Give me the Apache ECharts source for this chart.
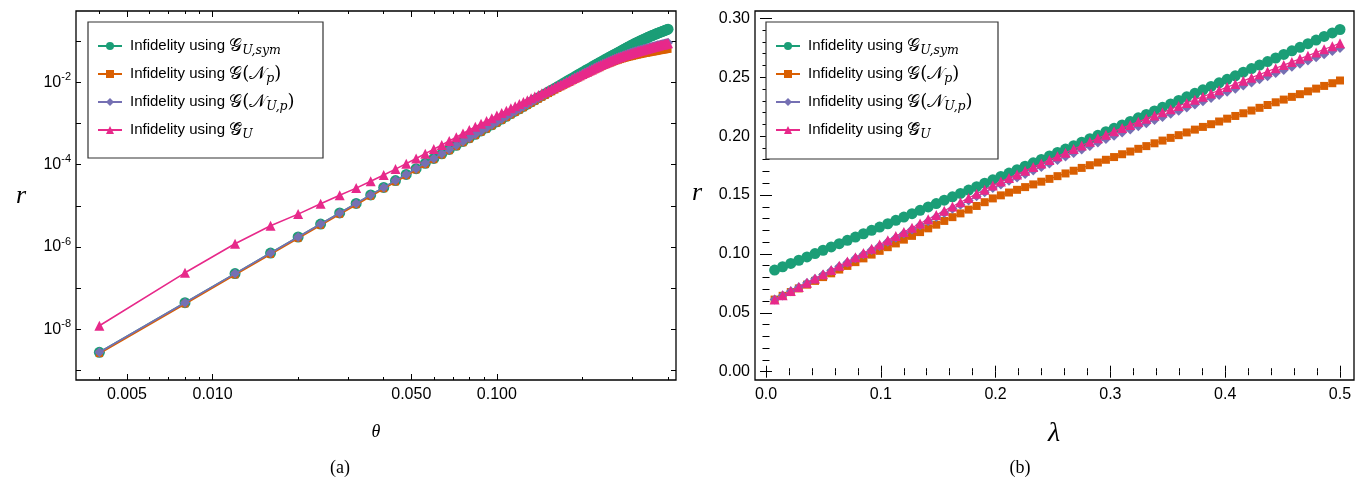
<!DOCTYPE html>
<html><head><meta charset="utf-8">
<script src="https://cdn.jsdelivr.net/npm/echarts@6/dist/echarts.min.js"></script>
<style>html,body{margin:0;padding:0;background:#fff;}#c{width:1364px;height:483px;}</style>
</head><body><div id="c"></div>
<script>
// ---------- data: panel (a) ----------
const theta = [0.004,0.008,0.012,0.016,0.020,0.024,0.028,0.032,0.036,0.040,
0.044,0.048,0.052,0.056,0.060,0.064,0.068,0.072,0.076,0.080,
0.084,0.088,0.092,0.096,0.100,0.104,0.108,0.112,0.116,0.120,
0.124,0.128,0.132,0.136,0.140,0.144,0.148,0.152,0.156,0.160,
0.164,0.168,0.172,0.176,0.180,0.184,0.188,0.192,0.196,0.200,
0.204,0.208,0.212,0.216,0.220,0.224,0.228,0.232,0.236,0.240,
0.244,0.248,0.252,0.256,0.260,0.264,0.268,0.272,0.276,0.280,
0.284,0.288,0.292,0.296,0.300,0.304,0.308,0.312,0.316,0.320,
0.324,0.328,0.332,0.336,0.340,0.344,0.348,0.352,0.356,0.360,
0.364,0.368,0.372,0.376,0.380,0.384,0.388,0.392,0.396,0.400];
const aGsym = [2.80e-9,4.47e-8,2.27e-7,7.16e-7,1.754e-6,3.62e-6,6.72e-6,1.146e-5,1.841e-5,2.80e-5,
4.10e-5,5.80e-5,8.00e-5,1.074e-4,1.416e-4,1.833e-4,2.337e-4,2.936e-4,3.647e-4,4.477e-4,
5.441e-4,6.554e-4,7.830e-4,9.282e-4,1.0929e-3,1.2785e-3,1.4869e-3,1.7198e-3,1.9787e-3,2.2663e-3,
2.5841e-3,2.9335e-3,3.3175e-3,3.7388e-3,4.199e-3,4.6994e-3,5.2429e-3,5.834e-3,6.4724e-3,7.1627e-3,
7.9061e-3,8.7057e-3,9.5656e-3,1.0486e-2,1.1472e-2,1.2526e-2,1.3652e-2,1.4852e-2,1.6129e-2,1.7486e-2,
0.018895,0.020376,0.021944,0.023598,0.025352,0.027164,0.029062,0.031061,0.03316,0.035346,
0.037647,0.040063,0.042579,0.045196,0.047943,0.050747,0.053666,0.056715,0.059864,0.063143,
0.066551,0.070074,0.073726,0.077523,0.081448,0.08513,0.088912,0.092794,0.096763,0.10085,
0.10502,0.10929,0.11366,0.11812,0.12268,0.12703,0.13143,0.13591,0.14044,0.14501,
0.14965,0.15433,0.15906,0.16383,0.16863,0.17347,0.17833,0.18323,0.18812,0.19305];
const aGNp = [2.60e-9,4.16e-8,2.108e-7,6.66e-7,1.626e-6,3.365e-6,6.241e-6,1.0656e-5,1.7083e-5,2.6028e-5,
3.8107e-5,5.3925e-5,7.4345e-5,9.9941e-5,1.3172e-4,1.7055e-4,2.1728e-4,2.7308e-4,3.3908e-4,4.163e-4,
5.0603e-4,6.0957e-4,7.282e-4,8.6323e-4,1.0164e-3,1.1891e-3,1.3828e-3,1.5995e-3,1.8402e-3,2.1077e-3,
2.398e-3,2.7164e-3,3.0654e-3,3.4472e-3,3.863e-3,4.3047e-3,4.7816e-3,5.2973e-3,5.8511e-3,6.4464e-3,
7.0522e-3,7.6957e-3,8.3795e-3,9.1018e-3,9.8663e-3,1.0673e-2,1.1523e-2,1.2416e-2,1.3354e-2,1.4339e-2,
0.015331,0.016364,0.01744,0.018556,0.019714,0.020857,0.022032,0.023238,0.024478,0.025745,
0.026961,0.028195,0.029442,0.030698,0.031962,0.033126,0.034278,0.035414,0.036528,0.037618,
0.038676,0.039699,0.04068,0.041613,0.042491,0.043497,0.044454,0.045359,0.046204,0.046985,
0.047933,0.048826,0.049658,0.050423,0.051115,0.052035,0.052893,0.053692,0.054417,0.055068,
0.056023,0.056922,0.057763,0.05854,0.059248,0.060072,0.06083,0.061522,0.062135,0.062669];
const aGNUp = [2.80e-9,4.47e-8,2.27e-7,7.16e-7,1.754e-6,3.62e-6,6.72e-6,1.146e-5,1.841e-5,2.80e-5,
4.10e-5,5.80e-5,8.00e-5,1.074e-4,1.416e-4,1.833e-4,2.337e-4,2.936e-4,3.647e-4,4.477e-4,
5.441e-4,6.554e-4,7.830e-4,9.282e-4,1.0929e-3,1.2785e-3,1.4869e-3,1.7198e-3,1.9787e-3,2.2663e-3,
2.5789e-3,2.9217e-3,3.2976e-3,3.7089e-3,4.157e-3,4.6383e-3,5.1591e-3,5.7231e-3,6.3301e-3,6.9836e-3,
7.669e-3,8.4009e-3,9.1829e-3,1.0014e-2,1.0899e-2,1.18e-2,1.2751e-2,1.3753e-2,1.4806e-2,1.5913e-2,
0.017035,0.018205,0.019427,0.020697,0.022017,0.023333,0.02469,0.026088,0.027529,0.029007,
0.030524,0.03208,0.033672,0.035299,0.036957,0.038541,0.040142,0.041755,0.043377,0.045007,
0.046639,0.048271,0.049896,0.051512,0.053114,0.054697,0.056256,0.057786,0.059282,0.060737,
0.062265,0.063752,0.065193,0.066582,0.06791,0.069483,0.071004,0.072484,0.0739,0.075261,
0.076819,0.078328,0.07978,0.081169,0.082492,0.084122,0.085698,0.087225,0.088687,0.090088];
const aGtil = [1.234e-8,2.373e-7,1.2007e-6,3.293e-6,6.298e-6,1.1231e-5,1.8133e-5,2.6934e-5,3.9487e-5,5.5967e-5,
7.7839e-5,1.0558e-4,1.4064e-4,1.8485e-4,2.3796e-4,3.0069e-4,3.7618e-4,4.639e-4,5.6887e-4,6.8938e-4,
8.2498e-4,9.7798e-4,1.1494e-3,1.3404e-3,1.5519e-3,1.7848e-3,2.0399e-3,2.3183e-3,2.6197e-3,2.9462e-3,
3.2922e-3,3.6611e-3,4.054e-3,4.4716e-3,4.9128e-3,5.3855e-3,5.8826e-3,6.4057e-3,6.9514e-3,7.5209e-3,
8.1591e-3,8.8276e-3,9.5273e-3,1.0255e-2,1.1013e-2,1.1875e-2,1.2779e-2,1.3723e-2,1.4709e-2,1.5737e-2,
0.016845,0.018001,0.019206,0.02046,0.021761,0.023113,0.024514,0.025962,0.027461,0.029007,
0.030447,0.031915,0.033408,0.034923,0.036458,0.038011,0.039578,0.041157,0.042743,0.044335,
0.045786,0.047218,0.048625,0.050002,0.051344,0.052831,0.054289,0.055715,0.057102,0.058445,
0.059976,0.061476,0.062937,0.064353,0.065719,0.06734,0.06892,0.070471,0.07197,0.073424,
0.075016,0.076563,0.078063,0.07951,0.080898,0.082363,0.083766,0.085109,0.086375,0.08757];

// ---------- data: panel (b) ----------
const lambda = [0.0075,0.0145,0.0216,0.0286,0.0357,0.0427,0.0497,0.0568,0.0638,0.0709,
0.0779,0.0849,0.0920,0.0990,0.1061,0.1131,0.1201,0.1272,0.1342,0.1413,
0.1483,0.1553,0.1624,0.1694,0.1765,0.1835,0.1905,0.1976,0.2046,0.2117,
0.2187,0.2257,0.2328,0.2398,0.2469,0.2539,0.2609,0.2680,0.2750,0.2821,
0.2891,0.2961,0.3032,0.3102,0.3173,0.3243,0.3313,0.3384,0.3454,0.3525,
0.3595,0.3665,0.3736,0.3806,0.3877,0.3947,0.4017,0.4088,0.4158,0.4229,
0.4299,0.4369,0.4440,0.4510,0.4581,0.4651,0.4721,0.4792,0.4862,0.4933,0.5000];
const bGsym = [0.0863,0.0891,0.0919,0.0946,0.0974,0.1003,0.1031,0.1059,0.1087,0.1115,
0.1143,0.1171,0.1200,0.1228,0.1256,0.1285,0.1313,0.1341,0.1370,0.1399,
0.1427,0.1456,0.1485,0.1513,0.1542,0.1571,0.1600,0.1629,0.1657,0.1686,
0.1715,0.1744,0.1773,0.1802,0.1832,0.1861,0.1890,0.1919,0.1948,0.1978,
0.2007,0.2037,0.2066,0.2095,0.2125,0.2155,0.2184,0.2214,0.2244,0.2273,
0.2303,0.2333,0.2363,0.2393,0.2422,0.2452,0.2482,0.2512,0.2543,0.2573,
0.2603,0.2633,0.2663,0.2693,0.2724,0.2754,0.2785,0.2815,0.2846,0.2876,0.2905];
const bGNp = [0.0612,0.0644,0.0676,0.0707,0.0739,0.0771,0.0803,0.0835,0.0867,0.0898,
0.0930,0.0962,0.0994,0.1026,0.1057,0.1089,0.1121,0.1153,0.1185,0.1217,
0.1248,0.1280,0.1312,0.1344,0.1376,0.1407,0.1439,0.1471,0.1497,0.1521,
0.1544,0.1567,0.1590,0.1613,0.1637,0.1660,0.1683,0.1706,0.1730,0.1753,
0.1776,0.1799,0.1822,0.1846,0.1869,0.1892,0.1915,0.1939,0.1962,0.1985,
0.2008,0.2031,0.2055,0.2078,0.2101,0.2124,0.2148,0.2171,0.2194,0.2217,
0.2240,0.2264,0.2287,0.2310,0.2333,0.2356,0.2380,0.2403,0.2426,0.2449,0.2472];
const bGNUp = [0.0612,0.0647,0.0682,0.0717,0.0752,0.0787,0.0822,0.0857,0.0892,0.0928,
0.0963,0.0998,0.1033,0.1068,0.1103,0.1138,0.1173,0.1208,0.1243,0.1278,
0.1313,0.1348,0.1383,0.1418,0.1453,0.1489,0.1524,0.1559,0.1590,0.1620,
0.1649,0.1679,0.1708,0.1738,0.1768,0.1797,0.1827,0.1856,0.1886,0.1915,
0.1945,0.1975,0.2003,0.2030,0.2056,0.2083,0.2110,0.2136,0.2163,0.2189,
0.2216,0.2243,0.2269,0.2296,0.2323,0.2349,0.2376,0.2402,0.2429,0.2456,
0.2482,0.2509,0.2536,0.2562,0.2589,0.2615,0.2642,0.2669,0.2695,0.2722,0.2747];
const bGtil = [0.0612,0.0648,0.0684,0.0720,0.0756,0.0792,0.0827,0.0863,0.0899,0.0935,
0.0971,0.1007,0.1043,0.1079,0.1115,0.1151,0.1186,0.1222,0.1258,0.1294,
0.1330,0.1366,0.1402,0.1438,0.1474,0.1510,0.1545,0.1581,0.1614,0.1645,
0.1675,0.1706,0.1737,0.1767,0.1798,0.1828,0.1859,0.1890,0.1920,0.1951,
0.1982,0.2012,0.2041,0.2068,0.2095,0.2121,0.2148,0.2175,0.2202,0.2228,
0.2255,0.2282,0.2309,0.2335,0.2362,0.2389,0.2416,0.2442,0.2469,0.2496,
0.2523,0.2549,0.2576,0.2603,0.2630,0.2656,0.2683,0.2710,0.2737,0.2763,0.2789];

// ---------- ticks ----------
const aXLabels = [0.005, 0.01, 0.05, 0.1];
const aXMinor = [0.004,0.006,0.007,0.008,0.009,0.02,0.03,0.04,0.06,0.07,0.08,0.09,0.2,0.3,0.4];
const aYTicks = [1e-9,1e-8,1e-7,1e-6,1e-5,1e-4,1e-3,1e-2,1e-1];
const aYLabels = [1e-8,1e-6,1e-4,1e-2];
const bXLabels = [0,0.1,0.2,0.3,0.4,0.5];
const bXMinor = [0.02,0.04,0.06,0.08,0.12,0.14,0.16,0.18,0.22,0.24,0.26,0.28,0.32,0.34,0.36,0.38,0.42,0.44,0.46,0.48];
const bYLabels = [0,0.05,0.1,0.15,0.2,0.25,0.3];
const bYMinor = [0.01,0.02,0.03,0.04,0.06,0.07,0.08,0.09,0.11,0.12,0.13,0.14,0.16,0.17,0.18,0.19,0.21,0.22,0.23,0.24,0.26,0.27,0.28,0.29];

const names = ['Infidelity using \uD835\uDCA2_{U,sym}','Infidelity using \uD835\uDCA2(\uD835\uDCA9_p)','Infidelity using \uD835\uDCA2(\uD835\uDCA9_{U,p})','Infidelity using \uD835\uDCA2\u0303_U'];
const legendRich = {};
legendRich[names[0]] = '{t|Infidelity using }{g|\uD835\uDCA2}{s|U,sym}';
legendRich[names[1]] = '{t|Infidelity using }{g|\uD835\uDCA2(\uD835\uDCA9}{s|p}{g|)}';
legendRich[names[2]] = '{t|Infidelity using }{g|\uD835\uDCA2(\uD835\uDCA9}{s|U,p}{g|)}';
legendRich[names[3]] = '{t|Infidelity using }{g|\uD835\uDCA2\u0303}{s|U}';

const colors = ['#1b9e77','#d95f02','#7570b3','#e7298a'];
const symbols = ['circle','rect','diamond','triangle'];
const symSizes = [11,7,10,10];

const SANS = "'Liberation Sans', Arial, sans-serif";
const SERIF = "'DejaVu Serif', 'Liberation Serif', serif";

function ax(o){
  const base = {axisLine:{show:false}, splitLine:{show:false}, axisLabel:{show:false}, axisTick:{show:false}};
  return Object.assign(base, o);
}
function ticks(vals, len){ return {show:true, inside:true, length:len, customValues:vals, lineStyle:{color:'#000', width:1}}; }

const aX = {type:'log', logBase:10, min:0.00331, max:0.4266, gridIndex:0};
const aY = {type:'log', logBase:10, min:5.95e-10, max:0.534, gridIndex:0};
const bX = {type:'value', min:-0.00958, max:0.5122, gridIndex:1};
const bY = {type:'value', min:-0.00705, max:0.3062, gridIndex:1};

const numLabel = {fontFamily:SANS, fontSize:16, color:'#000'};

const xAxis = [
  ax(Object.assign({}, aX, {position:'bottom', axisTick:ticks(aXLabels,6),
     axisLabel:Object.assign({show:true, customValues:aXLabels, margin:7, formatter:v=>v.toFixed(3)}, numLabel)})),
  ax(Object.assign({}, aX, {position:'bottom', axisTick:ticks(aXMinor,3)})),
  ax(Object.assign({}, aX, {position:'top', axisTick:ticks(aXLabels,6)})),
  ax(Object.assign({}, aX, {position:'top', axisTick:ticks(aXMinor,3)})),
  ax(Object.assign({}, bX, {position:'bottom', axisTick:ticks(bXLabels,6),
     axisLabel:Object.assign({show:true, customValues:bXLabels, margin:7, formatter:v=>v.toFixed(1)}, numLabel)})),
  ax(Object.assign({}, bX, {position:'bottom', axisTick:ticks(bXMinor,3.5)})),
  ax(Object.assign({}, bX, {position:'top', axisTick:ticks(bXLabels,6)})),
  ax(Object.assign({}, bX, {position:'top', axisTick:ticks(bXMinor,3.5)}))
];
const yAxis = [
  ax(Object.assign({}, aY, {position:'left', axisTick:ticks(aYTicks,5),
     axisLabel:{show:true, customValues:aYLabels, margin:5,
       formatter:v=>'{b|10}{s|'+Math.round(Math.log10(v))+'}',
       rich:{b:{fontFamily:SANS, fontSize:16, color:'#000', lineHeight:22},
             s:{fontFamily:SANS, fontSize:11, color:'#000', lineHeight:12, verticalAlign:'top'}}}})),
  ax(Object.assign({}, aY, {position:'right', axisTick:ticks(aYTicks,5)})),
  ax(Object.assign({}, bY, {position:'left', axisTick:ticks(bYLabels,6),
     axisLabel:Object.assign({show:true, customValues:bYLabels, margin:5, formatter:v=>v.toFixed(2)}, numLabel)})),
  ax(Object.assign({}, bY, {position:'left', axisTick:ticks(bYMinor,3.5)})),
  ax(Object.assign({}, bY, {position:'right', axisTick:ticks(bYLabels,6)})),
  ax(Object.assign({}, bY, {position:'right', axisTick:ticks(bYMinor,3.5)}))
];

const aData = [aGsym, aGNp, aGNUp, aGtil];
const bData = [bGsym, bGNp, bGNUp, bGtil];
const series = [];
for (let i=0;i<4;i++){
  series.push({type:'line', name:names[i], xAxisIndex:0, yAxisIndex:0,
    data: theta.map((t,j)=>[t, aData[i][j]]),
    symbol:symbols[i], symbolSize:symSizes[i], showAllSymbol:true,
    lineStyle:{color:colors[i], width:1.6}, itemStyle:{color:colors[i]}, z:2+i});
}
for (let i=0;i<4;i++){
  series.push({type:'line', name:names[i], xAxisIndex:4, yAxisIndex:2,
    data: lambda.map((t,j)=>[t, bData[i][j]]),
    symbol:symbols[i], symbolSize:symSizes[i]+(i===1?1:0), showAllSymbol:true,
    lineStyle:{color:colors[i], width:1.2}, itemStyle:{color:colors[i]}, z:2+i});
}

const legRich = {
  t:{fontFamily:SANS, fontSize:15, color:'#000', lineHeight:22, padding:[0,0,0,3]},
  g:{fontFamily:SERIF, fontSize:18, color:'#000', lineHeight:22},
  s:{fontFamily:SERIF, fontStyle:'italic', fontSize:12.5, color:'#000', lineHeight:12, verticalAlign:'bottom'}
};
const legendTops = [37, 65, 93, 121];
const legends = [];
[97, 775].forEach(function(left){
  names.forEach(function(n, i){
    legends.push({left:left, top:legendTops[i], orient:'vertical', itemWidth:24, itemHeight:10, padding:0,
      data:[n], selectedMode:false, formatter:m=>legendRich[m], textStyle:{rich:legRich}, z:10});
  });
});

const option = {
  animation:false,
  backgroundColor:'#fff',
  grid:[
    {left:76, top:11, width:600, height:369, show:true, borderColor:'#000', borderWidth:1.3, backgroundColor:'transparent'},
    {left:755, top:11, width:599, height:369, show:true, borderColor:'#000', borderWidth:1.3, backgroundColor:'transparent'}
  ],
  xAxis:xAxis, yAxis:yAxis, series:series,
  legend:legends,
  graphic:[
    {type:'rect', z:1, shape:{x:88, y:22, width:235, height:136}, style:{fill:'#fff', stroke:'#333', lineWidth:1.2}},
    {type:'rect', z:1, shape:{x:766, y:22, width:232, height:137}, style:{fill:'#fff', stroke:'#333', lineWidth:1.2}},
    {type:'text', x:21, y:196, style:{text:'r', font:"italic 26px 'Liberation Serif'", fill:'#000', align:'center', verticalAlign:'middle'}},
    {type:'text', x:697, y:193, style:{text:'r', font:"italic 26px 'Liberation Serif'", fill:'#000', align:'center', verticalAlign:'middle'}},
    {type:'text', x:376, y:432, style:{text:'\u03B8', font:"italic 18px 'Liberation Serif'", fill:'#000', align:'center', verticalAlign:'middle'}},
    {type:'text', x:1054, y:434, style:{text:'\u03BB', font:"italic 28px 'Liberation Serif'", fill:'#000', align:'center', verticalAlign:'middle'}},
    {type:'text', x:340, y:468, style:{text:'(a)', font:"18px 'Liberation Serif'", fill:'#000', align:'center', verticalAlign:'middle'}},
    {type:'text', x:1020, y:468, style:{text:'(b)', font:"18px 'Liberation Serif'", fill:'#000', align:'center', verticalAlign:'middle'}}
  ]
};
const chart = echarts.init(document.getElementById('c'), null, {renderer:'canvas'});
chart.setOption(option);
</script>
</body></html>
